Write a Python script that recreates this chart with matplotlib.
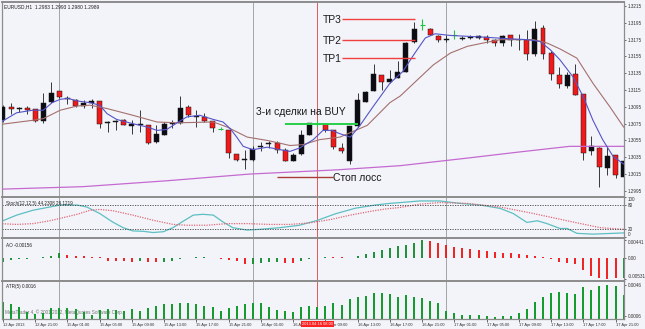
import numpy as np
import matplotlib.pyplot as plt
import matplotlib.transforms as mtransforms
from matplotlib.patches import Rectangle

plt.rcParams['font.family'] = ['Liberation Sans', 'DejaVu Sans']

# EURUSD H1, bars 12 Apr 17:00 .. 17 Apr 22:00 (bar index = x)
opens = [1.3079, 1.3095, 1.3092, 1.3094, 1.3092, 1.3078, 1.3101, 1.3114, 1.3106, 1.3103,
         1.3096, 1.3099, 1.3102, 1.3076, 1.3077, 1.3079, 1.3072, 1.3073, 1.3073, 1.3053,
         1.3062, 1.3075, 1.3076, 1.3095, 1.3083, 1.3083, 1.3078, 1.3069, 1.3068, 1.3039,
         1.3032, 1.3032, 1.3047, 1.3051, 1.3052, 1.3044, 1.3031, 1.3039, 1.3061, 1.3075,
         1.3074, 1.3067, 1.3046, 1.3030, 1.3072, 1.3101, 1.3114, 1.3133, 1.3125, 1.3129,
         1.3137, 1.3172, 1.3192, 1.3188, 1.3179, 1.3175, 1.3181, 1.3176, 1.3177, 1.3177,
         1.3178, 1.3175, 1.3171, 1.3180, 1.3174, 1.3175, 1.3158, 1.3189, 1.3159, 1.3133,
         1.3120, 1.3134, 1.3110, 1.3042, 1.3046, 1.3022, 1.3038, 1.3012]
highs = [1.3097, 1.3099, 1.3095, 1.3096, 1.3093, 1.3111, 1.3125, 1.3114, 1.3108, 1.3104,
         1.3103, 1.3104, 1.3102, 1.3078, 1.3079, 1.3081, 1.3079, 1.3091, 1.3073, 1.3073,
         1.3077, 1.3079, 1.3108, 1.3097, 1.3091, 1.3088, 1.3078, 1.3071, 1.3068, 1.3039,
         1.3044, 1.3048, 1.3053, 1.3054, 1.3054, 1.3046, 1.3040, 1.3067, 1.3076, 1.3078,
         1.3075, 1.3068, 1.3052, 1.3072, 1.3111, 1.3114, 1.3146, 1.3133, 1.3139, 1.3149,
         1.3172, 1.3196, 1.3199, 1.3189, 1.3180, 1.3180, 1.3186, 1.3179, 1.3180, 1.3181,
         1.3180, 1.3176, 1.3181, 1.3181, 1.3182, 1.3186, 1.3197, 1.3192, 1.3161, 1.3143,
         1.3137, 1.3146, 1.3110, 1.3060, 1.3047, 1.3047, 1.3038, 1.3032]
lows = [1.3077, 1.3087, 1.3089, 1.3087, 1.3077, 1.3076, 1.3100, 1.3106, 1.3098, 1.3095,
        1.3094, 1.3094, 1.3070, 1.3065, 1.3068, 1.3073, 1.3063, 1.3065, 1.3051, 1.3052,
        1.3062, 1.3070, 1.3075, 1.3083, 1.3071, 1.3077, 1.3065, 1.3067, 1.3034, 1.3030,
        1.3021, 1.3030, 1.3043, 1.3046, 1.3040, 1.3030, 1.3030, 1.3038, 1.3061, 1.3072,
        1.3065, 1.3045, 1.3040, 1.3027, 1.3071, 1.3101, 1.3114, 1.3115, 1.3123, 1.3129,
        1.3137, 1.3171, 1.3186, 1.3180, 1.3172, 1.3172, 1.3176, 1.3175, 1.3176, 1.3176,
        1.3171, 1.3168, 1.3167, 1.3167, 1.3163, 1.3151, 1.3155, 1.3152, 1.3127, 1.3118,
        1.3117, 1.3109, 1.3032, 1.3038, 1.3000, 1.3014, 1.3010, 1.3010]
closes = [1.3095, 1.3092, 1.3093, 1.3091, 1.3078, 1.3100, 1.3111, 1.3107, 1.3104, 1.3096,
          1.3100, 1.3102, 1.3075, 1.3077, 1.3078, 1.3073, 1.3074, 1.3074, 1.3052, 1.3063,
          1.3075, 1.3076, 1.3094, 1.3085, 1.3084, 1.3078, 1.3070, 1.3069, 1.3040, 1.3032,
          1.3033, 1.3045, 1.3048, 1.3052, 1.3044, 1.3030, 1.3038, 1.3061, 1.3076, 1.3075,
          1.3068, 1.3047, 1.3043, 1.3072, 1.3103, 1.3113, 1.3134, 1.3125, 1.3128, 1.3137,
          1.3171, 1.3188, 1.3192, 1.3180, 1.3175, 1.3176, 1.3181, 1.3177, 1.3178, 1.3179,
          1.3175, 1.3171, 1.3179, 1.3174, 1.3175, 1.3158, 1.3188, 1.3158, 1.3134, 1.3122,
          1.3133, 1.3109, 1.3040, 1.3048, 1.3024, 1.3036, 1.3014, 1.3030]

# moving averages (bar index, price)
fast_x = [-0.4, 1.7, 3.7, 5.0, 6.1, 7.1, 8.1, 9.2, 10.8, 12.0, 12.9, 14.1, 16.1, 17.9, 19.1,
          20.3, 21.6, 22.8, 24.4, 26.1, 27.3, 28.2, 29.0, 29.8, 31.0, 32.8, 34.4, 35.6, 36.8,
          38.5, 39.7, 40.8, 41.8, 43.1, 44.3, 45.9, 48.0, 49.6, 51.1, 52.4, 53.6, 55.5, 59.6,
          62.9, 65.0, 66.6, 67.9, 69.1, 70.7, 72.0, 73.2, 74.4, 75.7, 77.0]
fast_p = [1.3076, 1.3088, 1.3091, 1.3091, 1.3100, 1.3104, 1.3105, 1.3102, 1.3100, 1.3097,
          1.3087, 1.3080, 1.3075, 1.3071, 1.3067, 1.3068, 1.3076, 1.3083, 1.3085, 1.3080,
          1.3077, 1.3069, 1.3059, 1.3048, 1.3044, 1.3047, 1.3044, 1.3042, 1.3046, 1.3056,
          1.3067, 1.3067, 1.3063, 1.3059, 1.3073, 1.3095, 1.3123, 1.3137, 1.3159, 1.3177,
          1.3182, 1.3180, 1.3178, 1.3176, 1.3175, 1.3173, 1.3163, 1.3151, 1.3131, 1.3107,
          1.3079, 1.3056, 1.3036, 1.3027]
slow_x = [-0.4, 3.7, 5.0, 7.1, 9.2, 10.8, 12.9, 16.1, 19.1, 21.6, 26.1, 27.8, 30.3, 32.8,
          34.7, 35.6, 37.2, 39.3, 41.8, 45.2, 48.0, 49.3, 51.4, 53.4, 55.5, 57.6, 59.6, 61.7,
          63.8, 65.8, 67.5, 69.1, 71.2, 73.2, 75.3, 77.0]
slow_p = [1.3074, 1.3079, 1.3081, 1.3091, 1.3096, 1.3097, 1.3093, 1.3085, 1.3077, 1.3076,
          1.3077, 1.3071, 1.3059, 1.3055, 1.3051, 1.3049, 1.3050, 1.3056, 1.3059, 1.3073,
          1.3100, 1.3108, 1.3127, 1.3145, 1.3159, 1.3167, 1.3171, 1.3175, 1.3175, 1.3175,
          1.3171, 1.3164, 1.3153, 1.3123, 1.3095, 1.3071]
long_x = [-0.4, 9.9, 20.3, 30.6, 41.4, 49.3, 57.6, 63.8, 70.3, 77.0]
long_p = [1.2997, 1.3000, 1.3007, 1.3015, 1.3020, 1.3025, 1.3034, 1.3041, 1.3048, 1.3048]

# stochastic
st_main_x = [-0.4, 1.7, 3.7, 5.8, 7.1, 9.2, 10.4, 12.0, 13.6, 14.9, 16.1, 17.4, 18.6, 19.9,
             21.1, 22.2, 23.6, 24.8, 26.1, 27.3, 28.5, 30.3, 31.9, 34.4, 36.8, 39.0, 41.2,
             43.7, 46.2, 48.0, 49.3, 51.7, 54.2, 56.7, 59.2, 61.7, 63.3, 65.0, 66.3, 67.5,
             69.1, 70.0, 71.2, 73.2, 75.7, 77.0]
st_main_v = [38, 55, 67, 75, 80, 80, 75, 59, 38, 24, 16, 15, 12, 14, 24, 38, 55, 57, 55, 38,
             24, 18, 20, 24, 30, 42, 58, 72, 80, 84, 86, 90, 90, 84, 80, 71.5, 59, 37, 41, 34,
             22, 22, 10, 8, 10, 11]
st_sig_x = [-0.4, 1.7, 3.7, 5.8, 7.1, 9.2, 10.8, 12.0, 13.6, 16.1, 18.6, 21.1, 22.8, 25.3,
            27.8, 30.3, 33.1, 35.6, 38.1, 40.6, 43.1, 45.5, 47.4, 49.3, 51.7, 54.2, 57.6,
            61.7, 65.8, 70.0, 74.1, 77.0]
st_sig_v = [34, 32, 34, 41, 47, 57, 67, 69, 66, 55, 42.5, 32, 30, 30, 34, 34, 32, 32, 36, 44,
            55, 64, 70, 74, 82, 86, 84, 75, 59, 41, 24, 20]

# Awesome Oscillator (x1e-4) and bar colours
ao_vals = [-10, -5, -2.5, -2.5, -1.2, 2, 5, 11, 6, 5, 3.7, 2.5, 0.8, -8.2, -8.3, -8.7, -10,
           -8.8, -10, -11.2, -10, -8.7, -2.5, -1.2, 0.8, 1.2, -0.8, -3.7, -5, -8.7, -16, -15,
           -12.5, -11.2, -11, -12.5, -12.6, -8.7, -3.7, -1.2, 2.5, 1.2, 0.8, 0.5, 3.7, 8.7,
           15, 20, 23.7, 28.7, 32.5, 37.5, 44.1, 41.2, 37.5, 32.5, 27.5, 23.7, 20.7, 18.7,
           16.2, 13.7, 12.5, 11.2, 8.2, 5.7, 3.7, 1.7, -3, -10, -13.7, -15, -31.2, -45, -50,
           -53.1, -51.2, -50]
ao_cols = ("ggggrgggrr" "rrrrrrrgrr" "ggggggrrrr" "rggggrrggg" "grrrgggggg"
           "gggrrrrrrr" "rrrrrrrrrr" "rrrrrrrg")

# ATR (x1e-4)
atr_vals = [24.3, 20.9, 17.8, 10.5, 8.3, 10, 15.7, 15.7, 15.7, 14.4, 11.3, 7, 13.5, 14.4,
            13.5, 12.6, 14.4, 12.6, 15.7, 18.7, 21.3, 21.3, 22.2, 22.2, 21.3, 18.7, 17.8,
            12.2, 15.7, 18.7, 21, 22.2, 22.2, 17, 13.5, 12.2, 11.3, 17, 18.7, 17.8, 18.7, 23,
            20, 27.8, 30.4, 31.7, 35.6, 35.6, 34.3, 30.4, 33, 30.8, 28.7, 25.6, 22.2, 12.6,
            9.2, 7, 7, 7, 5.7, 4.8, 5.7, 6.1, 9.2, 14.4, 24.3, 30.8, 36, 37.3, 35.2, 34.3, 43,
            40, 44.5, 46, 45, 33]

price_ticks = [1.2995, 1.3015, 1.3035, 1.3055, 1.3075, 1.3095, 1.3115, 1.3135, 1.3155,
               1.3175, 1.3195, 1.3215]
time_idx = [0, 4, 8, 12, 16, 20, 24, 28, 32, 36, 40, 44, 48, 52, 56, 60, 64, 68, 72, 76]
time_labels = ['12 Apr 2013', '12 Apr 21:00', '15 Apr 01:00', '15 Apr 05:00', '15 Apr 09:00',
               '15 Apr 13:00', '15 Apr 17:00', '15 Apr 21:00', '16 Apr 01:00', '16 Apr 05:00',
               '16 Apr 09:00', '16 Apr 13:00', '16 Apr 17:00', '16 Apr 21:00', '17 Apr 01:00',
               '17 Apr 05:00', '17 Apr 09:00', '17 Apr 13:00', '17 Apr 17:00', '17 Apr 21:00']
day_starts = [7, 31, 55]
marked_bar = 39

tp_names = ['TP3', 'TP2', 'TP1']
tp_levels = [1.31992, 1.31745, 1.31528]
tp_span = [42.1, 51.1]
buy_level, buy_span = 1.30746, [35.0, 44.0]
stop_level, stop_span = 1.30118, [34.0, 40.9]

bg = '#F3F4F9'
W, H = 645.0, 329.0
fig = plt.figure(figsize=(6.45, 3.29), dpi=100)
fig.patch.set_facecolor(bg)


def panel(top, bottom):
    a = fig.add_axes([2 / W, 1 - bottom / H, 622 / W, (bottom - top) / H])
    a.set_facecolor(bg)
    a.set_xlim(-0.124, 77.05)
    a.yaxis.tick_right()
    a.tick_params(axis='y', labelsize=3.3, pad=1.2, length=1.5, width=0.5,
                  colors='#303030')
    a.tick_params(axis='x', bottom=False, labelbottom=False)
    for s in a.spines.values():
        s.set_color('#8c8c8c')
        s.set_linewidth(0.9)
    a.spines['top'].set_linewidth(1.4)
    return a


ax = panel(1.5, 196.5)
ax_st = panel(196.5, 237.5)
ax_ao = panel(237.5, 281)
ax_atr = panel(281, 319)

# ---- main price chart
ax.set_ylim(1.29883, 1.32204)
ax.set_yticks(price_ticks)
ax.set_yticklabels(['%.4f' % p for p in price_ticks])
bw = 0.62
for i in range(len(opens)):
    o, h, l, c = opens[i], highs[i], lows[i], closes[i]
    if o == c:
        ax.vlines(i, l, h, color='#20C040', lw=0.8, zorder=3)
        ax.hlines(o, i - bw / 2, i + bw / 2, color='#20C040', lw=0.8, zorder=3)
        continue
    ax.vlines(i, l, h, color='#1a1a1a', lw=0.6, zorder=2)
    bottom = min(o, c)
    height = max(abs(c - o), 0.00011)
    fc = '#0c0c14' if c > o else '#F01818'
    ax.add_patch(Rectangle((i - bw / 2, bottom), bw, height, facecolor=fc,
                           edgecolor='#1a1a1a', lw=0.35, zorder=3))

ax.plot(long_x, long_p, color='#C46AD0', lw=0.9, zorder=4)
ax.plot(slow_x, slow_p, color='#A4706E', lw=0.8, zorder=4)
ax.plot(fast_x, fast_p, color='#5454C8', lw=0.8, zorder=5)

ax.text(0.004, 0.988, 'EURUSD,H1  1.2983 1.2993 1.2980 1.2989', transform=ax.transAxes,
        fontsize=3.5, va='top', color='#202020')

for name, lvl in zip(tp_names, tp_levels):
    ax.hlines(lvl, tp_span[0], tp_span[1], color='#F04040', lw=1.0, zorder=6)
    ax.text(tp_span[0] - 0.05, lvl - 0.0001, name, fontsize=7.5, ha='right', va='center',
            color='#1a1a1a', zorder=7)
ax.hlines(buy_level, buy_span[0], buy_span[1], color='#28D048', lw=1.4, zorder=6)
ax.text(31.4, buy_level + 0.00139, '3-и сделки на BUY', fontsize=7.5, ha='left',
        va='center', color='#1a1a1a', zorder=7)
ax.hlines(stop_level, stop_span[0], stop_span[1], color='#A83A3A', lw=1.0, zorder=6)
ax.text(stop_span[1] + 0.05, stop_level - 0.0001, 'Стоп лосс', fontsize=7.5, ha='left',
        va='center', color='#1a1a1a', zorder=7)

# ---- stochastic
ax_st.set_ylim(-0.3, 101)
ax_st.plot(st_main_x, st_main_v, color='#5CBFC2', lw=0.9)
ax_st.plot(st_sig_x, st_sig_v, color='#E06878', lw=0.9, ls=(0, (1, 1)))
for lvl in (20, 80):
    ax_st.axhline(lvl, color='#404040', lw=0.6, ls=(0, (1.5, 1.5)))
ax_st.set_yticks([100, 80, 20, 0])
ax_st.set_yticklabels(['100', '80', '20', '0'])
labs = ax_st.get_yticklabels()
labs[0].set_va('top')
labs[3].set_va('bottom')
ax_st.text(0.006, 0.88, 'Stoch(12,12,5) 44.2308 29.1219', transform=ax_st.transAxes,
           fontsize=3.3, va='top', color='#202020')

# ---- AO
ax_ao.set_ylim(-0.005825, 0.00505)
ao = np.array(ao_vals) * 1e-4
ao_colors = ['#0A8A28' if ch == 'g' else '#F01010' for ch in ao_cols]
ax_ao.vlines(np.arange(len(ao)), 0, ao, colors=ao_colors, lw=1.3)
ax_ao.set_yticks([0.00441, 0.0, -0.00531])
ax_ao.set_yticklabels(['0.00441', '0.00', '-0.00531'])
labs = ax_ao.get_yticklabels()
labs[0].set_va('top')
labs[2].set_va('bottom')
ax_ao.text(0.006, 0.88, 'AO -0.00156', transform=ax_ao.transAxes, fontsize=3.3,
           va='top', color='#202020')

# ---- ATR
ax_atr.set_ylim(0.00018, 0.00512)
ax_atr.text(0.005, 0.13, 'MetaTrader 4, © 2001-2012, MetaQuotes Software Corp.',
            transform=ax_atr.transAxes, fontsize=3.3, color='#707070', zorder=0)
atr = np.array(atr_vals) * 1e-4
ax_atr.vlines(np.arange(len(atr)), 0, atr, colors='#0E9A2A', lw=1.4, zorder=2)
ax_atr.set_yticks([0.0046, 0.0006])
ax_atr.set_yticklabels(['0.0046', '0.0006'])
ax_atr.text(0.006, 0.93, 'ATR(5) 0.0016', transform=ax_atr.transAxes, fontsize=3.3,
            va='top', color='#202020')
ax_atr.tick_params(axis='x', bottom=True, labelbottom=True, labelsize=2.9, length=1.8,
                   width=0.5, pad=1.0, colors='#303030')
ax_atr.set_xticks(time_idx)
ax_atr.set_xticklabels(time_labels, ha='left')
ax_atr.set_xlim(-0.124, 77.05)

# separators and the marked bar across all panels
for a in (ax, ax_st, ax_ao, ax_atr):
    for d in day_starts:
        a.axvline(d, color='#3a3a3a', lw=0.6, ls=(0, (1.2, 1.2)), zorder=1)
    a.axvline(marked_bar, color='#E05A5A', lw=0.7, zorder=1)

trans = mtransforms.blended_transform_factory(ax_atr.transData, ax_atr.transAxes)
ax_atr.text(marked_bar, -0.075, '2013.04.16 08:00', transform=trans, ha='center', va='top',
            fontsize=2.9, color='white', clip_on=False, zorder=10,
            bbox=dict(facecolor='#FF2020', edgecolor='none', pad=0.9))

fig.savefig('out.png', dpi=100, facecolor=bg)
